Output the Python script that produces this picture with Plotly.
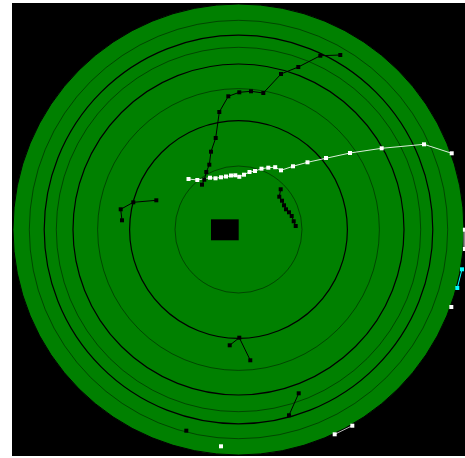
import plotly.graph_objects as go

# ---- data: track positions (east / north offsets, display radius = 100) ----
track_a_x = [-16.19, -15.17, -14.28, -12.95, -12.20, -10.11, -8.51, -4.52, 0.35, 5.54, 11.00, 18.85, 26.52, 36.28, 45.14]
track_a_y = [19.87, 22.08, 25.50, 28.74, 34.50, 40.58, 52.11, 59.07, 60.84, 61.29, 60.53, 68.96, 72.06, 77.07, 77.38]

track_b_x = [-22.17, -18.27, -12.64, -10.20, -7.76, -5.54, -3.33, -1.42, 0.35, 2.44, 4.88, 7.32, 10.20, 13.22,
             16.27, 18.85, 24.17, 30.60, 38.80, 49.45, 63.50, 82.26, 94.55]
track_b_y = [22.39, 21.95, 22.97, 22.71, 23.15, 23.50, 23.95, 24.04, 23.37, 24.30, 25.50, 25.94, 26.96, 27.41,
             27.63, 26.25, 28.03, 29.80, 31.71, 33.92, 36.01, 37.78, 33.79]

track_c_x = [18.71, 18.09, 19.29, 20.18, 21.06, 22.39, 23.59, 24.48, 25.37]
track_c_y = [17.83, 14.55, 12.77, 10.73, 8.96, 7.63, 5.99, 3.64, 1.55]

track_d_x = [-36.45, -46.65, -52.24, -51.66]
track_d_y = [12.95, 12.06, 8.96, 4.08]

track_e_x = [-3.90, 0.35, 5.23]
track_e_y = [-51.35, -47.98, -58.00]

track_f_x = [26.70, 22.39]
track_f_y = [-72.64, -82.39]

track_g_x = [-23.15]
track_g_y = [-89.22]

track_h_x = [-7.76]
track_h_y = [-96.14]

track_i_x = [42.66, 50.47]
track_i_y = [-90.82, -87.01]

track_j_x = [99.11, 97.03]
track_j_y = [-17.65, -25.94]

track_k_x = [94.37]
track_k_y = [-34.37]

track_l_x = [100.4, 100.4]
track_l_y = [-0.09, -8.65]

box_x = [-12.2, 0.09, 0.09, -12.2, -12.2]
box_y = [4.52, 4.52, -4.79, -4.79, 4.52]

disc_radius = 100
ring_major = [48.29, 73.39, 86.16]
ring_minor = [28.16, 62.48, 80.80, 92.77]
view_half = 100.443

fig = go.Figure()

# background disc and range rings
shapes = [dict(type="circle", xref="x", yref="y", x0=-disc_radius, y0=-disc_radius,
               x1=disc_radius, y1=disc_radius, fillcolor="green",
               line=dict(color="black", width=1), layer="below")]
for r in ring_minor:
    shapes.append(dict(type="circle", xref="x", yref="y", x0=-r, y0=-r, x1=r, y1=r,
                       line=dict(color="rgba(0,0,0,0.45)", width=1), layer="below"))
for r in ring_major:
    shapes.append(dict(type="circle", xref="x", yref="y", x0=-r, y0=-r, x1=r, y1=r,
                       line=dict(color="black", width=1.2), layer="below"))

fig.add_trace(go.Scatter(x=box_x, y=box_y, mode="lines", fill="toself",
                         fillcolor="black", line=dict(width=0, color="black"),
                         hoverinfo="skip", showlegend=False))


def add_track(xs, ys, color, line_color=None, width=1):
    fig.add_trace(go.Scatter(
        x=xs, y=ys, mode="lines+markers",
        line=dict(color=line_color or color, width=width),
        marker=dict(symbol="square", size=4, color=color, line=dict(width=0)),
        showlegend=False))


add_track(track_b_x, track_b_y, "white", "rgba(255,255,255,0.85)")
add_track(track_a_x, track_a_y, "black")
add_track(track_c_x, track_c_y, "black")
add_track(track_d_x, track_d_y, "black")
add_track(track_e_x, track_e_y, "black")
add_track(track_f_x, track_f_y, "black")
add_track(track_g_x, track_g_y, "black")
add_track(track_h_x, track_h_y, "white")
add_track(track_i_x, track_i_y, "white", "rgba(255,255,255,0.7)")
add_track(track_j_x, track_j_y, "cyan")
add_track(track_k_x, track_k_y, "white")
add_track(track_l_x, track_l_y, "white", "rgba(255,255,255,0.55)", width=3)

fig.update_layout(
    width=465, height=458,
    margin=dict(l=12, r=0, t=3, b=2),
    paper_bgcolor="white", plot_bgcolor="black",
    showlegend=False,
    shapes=shapes,
    xaxis=dict(visible=False, range=[-view_half, view_half], showgrid=False, zeroline=False),
    yaxis=dict(visible=False, range=[-view_half, view_half], showgrid=False, zeroline=False),
)

fig.write_html("out.html", config={"displayModeBar": False},
               post_script="document.body.style.margin='0';")
